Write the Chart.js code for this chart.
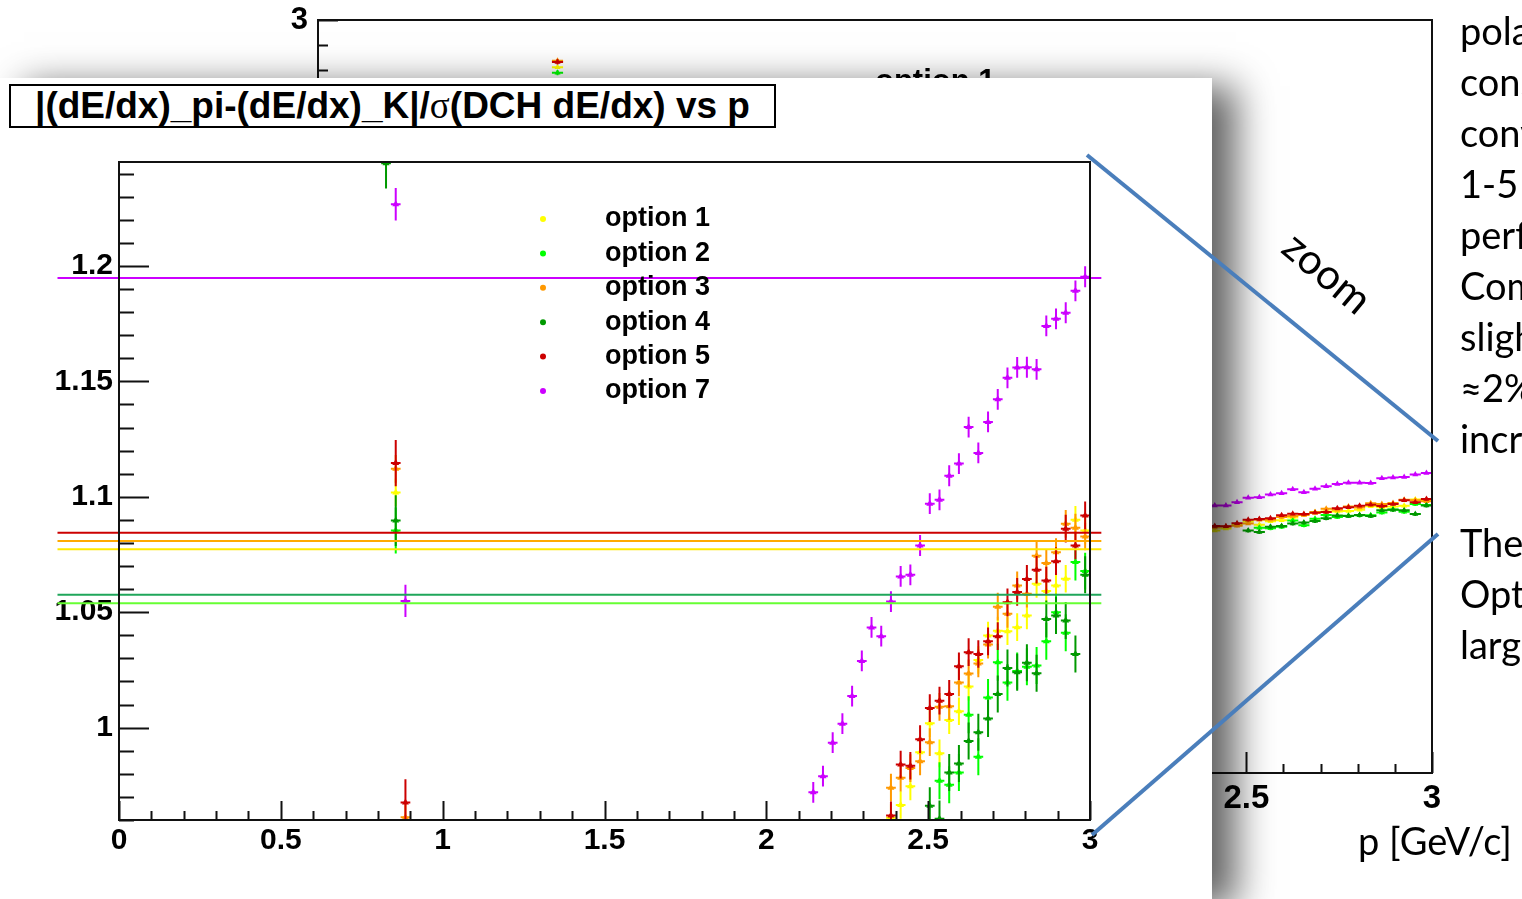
<!DOCTYPE html>
<html>
<head>
<meta charset="utf-8">
<title>dE/dx pi-K separation vs p</title>
<script src="https://cdn.jsdelivr.net/npm/chart.js@4.4.1/dist/chart.umd.min.js"></script>
<style>
  html, body { margin: 0; padding: 0; }
  body { width: 1522px; height: 899px; overflow: hidden; position: relative; background: #fff; }
  #full { position: absolute; left: 0; top: 0; }
  #inset { position: absolute; left: 0; top: 78px; width: 1212px; height: 821px; background: #fff;
           box-shadow: 24px 8px 36px rgba(0, 0, 0, 0.62); }
  #inset canvas { position: absolute; left: 0; top: 0; }
  #title { position: absolute; left: 9px; top: 6px; width: 767px; height: 44px; box-sizing: border-box;
           border: 2px solid #000; background: #fff; color: #000; text-align: center; white-space: nowrap;
           font-family: 'Liberation Sans', Arial, sans-serif; font-weight: bold; font-size: 37px; line-height: 40px; }
  #title .sym { font-family: 'Liberation Serif', 'DejaVu Serif', serif; font-weight: normal; }
  .slide { position: absolute; font-family: Lato, 'Open Sans', sans-serif; font-size: 38px; color: #000; white-space: nowrap; }
  #notes { left: 1460px; top: 5px; line-height: 51px; }
  #notes .gap { height: 53px; }
  #xtitle { left: 1358px; top: 820px; line-height: 40px; }
  #overlay { position: absolute; left: 0; top: 0; }
</style>
</head>
<body>
<canvas id="full" width="1522" height="899"></canvas>

<div id="inset">
  <canvas id="zoomed" width="1212" height="821"></canvas>
  <div id="title">|(dE/dx)_pi-(dE/dx)_K|/<span class="sym">σ</span>(DCH dE/dx) vs p</div>
</div>

<div id="notes" class="slide">
  <div>polar</div>
  <div>cons</div>
  <div>conv</div>
  <div>1-5 o</div>
  <div>perfo</div>
  <div>Comp</div>
  <div>slight</div>
  <div>≈2% </div>
  <div>incre</div>
  <div class="gap"></div>
  <div>The </div>
  <div>Optio</div>
  <div>large</div>
</div>
<div id="xtitle" class="slide">p [GeV/c]</div>

<svg id="overlay" width="1522" height="899">
  <line x1="1087" y1="155" x2="1438" y2="441" stroke="#4a7ebb" stroke-width="4"/>
  <line x1="1092" y1="835" x2="1438" y2="534" stroke="#4a7ebb" stroke-width="4"/>
  <text x="1318" y="284" transform="rotate(40 1318 284)" text-anchor="middle"
        font-family="Lato, 'Open Sans', sans-serif" font-size="42" fill="#000">zoom</text>
</svg>

<script>
// bin centres in p [GeV/c], 0.03 wide bins
const pLow = [0.645, 0.825, 0.855, 0.885];
const pHigh = [2.145, 2.175, 2.205, 2.235, 2.265, 2.295, 2.325, 2.355, 2.385, 2.415,
               2.445, 2.475, 2.505, 2.535, 2.565, 2.595, 2.625, 2.655, 2.685, 2.715,
               2.745, 2.775, 2.805, 2.835, 2.865, 2.895, 2.925, 2.955, 2.985];

// |(dE/dx)_pi-(dE/dx)_K| / sigma, low momentum bins
const opt1Low = [2.812, null, 1.1019, null];
const opt2Low = [2.79, null, 1.0854, null];
const opt3Low = [2.838, null, 1.1121, 0.9612];
const opt4Low = [null, 1.2445, 1.0897, null];
const opt5Low = [2.833, null, 1.1146, 0.9676];
const opt7Low = [null, null, 1.2267, 1.0549];

// same quantity, high momentum bins (aligned with pHigh)
const opt1High = [null, null, null, null, null, null, null, null,
  0.961, 0.9665, 0.9746, 0.9893, 1.0019, 0.9889, 1.0033, 1.0071, 1.0178, 1.0293, 1.0399,
  1.042, 1.0418, 1.0435, 1.0486, 1.0623, 1.0592, 1.0616, 1.0645, 1.09, 1.0854];
const opt2High = [null, null, null, null, null, null, null, null, null, null, null, null, null,
  0.977, 0.9753, 0.9806, 1.0056, 0.9874, 1.0131, 1.0283, 1.0196, 1.0245, 1.0264, 1.0269,
  1.0374, 1.05, 1.0411, 1.0717, 1.0678];
const opt3High = [null, null, null, null, null, null, null, null,
  0.974, 0.9783, 0.9825, 0.9854, 0.9937, 1.009, 1.0093, 1.0196, 1.0235, 1.0278, 1.036,
  1.0524, 1.0493, 1.0616, 1.058, 1.0745, 1.0713, 1.076, 1.0883, 1.0866, 1.0828];
const opt4High = [null, null, null, null, null, null, null, null, null, null, null, null,
  0.9662, 0.9605, 0.9806, 0.9845, 0.9942, 0.998, 1.004, 1.0146, 1.0258, 1.024, 1.0281,
  1.0236, 1.0471, 1.0486, 1.0464, 1.0319, 1.0662];
const opt5High = [null, null, null, null, null, null, null, null,
  0.962, 0.984, 0.9835, 0.995, 1.0085, 1.0117, 1.0146, 1.0266, 1.0327, 1.0319, 1.0374,
  1.0396, 1.0543, 1.0588, 1.0644, 1.0684, 1.0637, 1.0721, 1.0862, 1.0789, 1.0919];
const opt7High = [0.972, 0.979, 0.9935, 1.0017, 1.0137, 1.0289, 1.0434, 1.0396,
  1.0546, 1.0655, 1.0662, 1.0789, 1.097, 1.0987, 1.1091, 1.1144, 1.1302, 1.119, 1.1324,
  1.1422, 1.1515, 1.156, 1.1561, 1.1552, 1.174, 1.1771, 1.1797, 1.1892, 1.1953];

const errLow = [0.006, 0.010, 0.006, 0.011, 0.010, 0.007];
const errHigh = [0.006, 0.008, 0.006, 0.008, 0.006, 0.0045];

// averages drawn as horizontal lines on the zoomed view
const meanLevels = [1.0773, 1.0539, 1.0808, 1.0576, 1.0844, 1.1948];
const meanSpan = [-0.19, 3.035];

const seriesLabels = ['option 1', 'option 2', 'option 3', 'option 4', 'option 5', 'option 7'];
const seriesColors = ['#ffff00', '#00ff00', '#ff9900', '#009900', '#cc0000', '#cc00ff'];
const meanColors = ['#ffe800', '#66ff33', '#ffaa00', '#1fa65a', '#cc0000', '#cc00ff'];

const xTicks = [0, 0.5, 1, 1.5, 2, 2.5, 3];
const yTicksZoom = [1, 1.05, 1.1, 1.15, 1.2];
const yTicksFull = [0, 0.5, 1, 1.5, 2, 2.5, 3];

const lowSets = [opt1Low, opt2Low, opt3Low, opt4Low, opt5Low, opt7Low];
const highSets = [opt1High, opt2High, opt3High, opt4High, opt5High, opt7High];
const HALF_BIN = 0.015;

function points(ps, vals, err) {
  const out = [];
  ps.forEach((p, i) => {
    if (vals[i] !== null) out.push({ x: p, y: vals[i], e: err });
  });
  return out;
}

function makeDatasets(radius, withLines) {
  const sets = seriesLabels.map((label, i) => ({
    type: 'scatter',
    label: label,
    data: points(pLow, lowSets[i], errLow[i]).concat(points(pHigh, highSets[i], errHigh[i])),
    backgroundColor: seriesColors[i],
    borderColor: seriesColors[i],
    pointStyle: 'triangle',
    pointRadius: radius,
    pointBorderWidth: 0,
    order: seriesLabels.length - i
  }));
  if (withLines) {
    meanLevels.forEach((lvl, i) => {
      sets.push({
        type: 'line',
        label: '',
        data: [{ x: meanSpan[0], y: lvl }, { x: meanSpan[1], y: lvl }],
        borderColor: meanColors[i],
        borderWidth: 2,
        pointRadius: 0,
        clip: false,
        order: 0
      });
    });
  }
  return sets;
}

function eachTick(min, max, step, major, fn) {
  const k0 = Math.ceil(min / step - 1e-6), k1 = Math.floor(max / step + 1e-6);
  for (let k = k0; k <= k1; k++) {
    const v = k * step;
    fn(v, Math.abs(v / major - Math.round(v / major)) < 1e-6);
  }
}

const fmt = v => String(Math.round(v * 100) / 100);

// ROOT-like frame: error bars, inward ticks, frame box and a plain legend
const rootAxes = {
  id: 'rootAxes',
  beforeDatasetDraw(chart, args, o) {
    const ds = chart.data.datasets[args.index];
    if (ds.type !== 'scatter') return;
    const { ctx, chartArea: a, scales: { x, y } } = chart;
    ctx.save();
    ctx.beginPath();
    ctx.rect(a.left, a.top, a.right - a.left, a.bottom - a.top);
    ctx.clip();
    ctx.strokeStyle = ds.backgroundColor;
    ctx.lineWidth = o.barWidth;
    ctx.beginPath();
    ds.data.forEach(pt => {
      const px = x.getPixelForValue(pt.x), py = y.getPixelForValue(pt.y);
      ctx.moveTo(x.getPixelForValue(pt.x - HALF_BIN), py);
      ctx.lineTo(x.getPixelForValue(pt.x + HALF_BIN), py);
      ctx.moveTo(px, y.getPixelForValue(pt.y - pt.e));
      ctx.lineTo(px, y.getPixelForValue(pt.y + pt.e));
    });
    ctx.stroke();
    ctx.restore();
  },
  afterDatasetsDraw(chart, args, o) {
    const { ctx, chartArea: a, scales: { x, y } } = chart;
    ctx.save();
    ctx.strokeStyle = '#111';
    ctx.lineWidth = 2;
    ctx.strokeRect(a.left, a.top, a.right - a.left, a.bottom - a.top);
    ctx.beginPath();
    eachTick(x.min, x.max, o.xMinor, o.xMajor, (v, major) => {
      const px = Math.round(x.getPixelForValue(v)) + 0.5;
      ctx.moveTo(px, a.bottom);
      ctx.lineTo(px, a.bottom - (major ? o.xMajorLen : o.xMinorLen));
    });
    eachTick(y.min, y.max, o.yMinor, o.yMajor, (v, major) => {
      const py = Math.round(y.getPixelForValue(v)) + 0.5;
      ctx.moveTo(a.left, py);
      ctx.lineTo(a.left + (major ? o.yMajorLen : o.yMinorLen), py);
    });
    ctx.stroke();

    const L = o.legend;
    ctx.font = L.font;
    ctx.textAlign = 'left';
    ctx.textBaseline = 'middle';
    chart.data.datasets.filter(d => d.type === 'scatter').forEach((d, i) => {
      const cy = L.top + i * L.step;
      ctx.fillStyle = d.backgroundColor;
      ctx.beginPath();
      ctx.arc(L.markerX, cy, 3, 0, Math.PI * 2);
      ctx.fill();
      ctx.fillStyle = '#000';
      ctx.fillText(d.label, L.textX, cy);
    });
    ctx.restore();
  }
};

function makeChart(canvas, cfg) {
  const family = "'Liberation Sans', Arial, sans-serif";
  return new Chart(canvas, {
    type: 'scatter',
    data: { datasets: cfg.datasets },
    options: {
      responsive: false,
      animation: false,
      devicePixelRatio: 1,
      events: [],
      layout: { padding: cfg.padding },
      plugins: {
        legend: { display: false },
        tooltip: { enabled: false },
        rootAxes: cfg.axes
      },
      scales: {
        x: {
          type: 'linear', min: 0, max: 3, bounds: 'data',
          afterBuildTicks: s => { s.ticks = xTicks.map(v => ({ value: v })); },
          afterFit: s => { s.height = cfg.xHeight; },
          grid: { display: false, drawTicks: false },
          border: { display: false },
          ticks: { autoSkip: false, maxRotation: 0, padding: cfg.xPad, color: '#000',
                   font: { family, weight: 'bold', size: cfg.xFontSize }, callback: v => fmt(v) }
        },
        y: {
          type: 'linear', min: cfg.yMin, max: cfg.yMax, bounds: 'data',
          afterBuildTicks: s => { s.ticks = cfg.yTicks.map(v => ({ value: v })); },
          afterFit: s => { s.width = cfg.yWidth; },
          grid: { display: false, drawTicks: false },
          border: { display: false },
          ticks: { autoSkip: false, padding: cfg.yPad, color: '#000',
                   font: { family, weight: 'bold', size: cfg.yFontSize, lineHeight: 0.6 }, callback: v => fmt(v) }
        }
      }
    },
    plugins: [rootAxes]
  });
}

// full range view behind the zoom
makeChart(document.getElementById('full'), {
  datasets: makeDatasets(3.5, false),
  padding: { top: 20, right: 90, left: 0, bottom: 0 },
  yWidth: 318, xHeight: 126, yMin: 0, yMax: 3, yTicks: yTicksFull,
  xFontSize: 33, yFontSize: 31, xPad: 6, yPad: 10,
  axes: {
    barWidth: 2,
    xMajor: 0.5, xMinor: 0.1, xMajorLen: 21, xMinorLen: 9,
    yMajor: 0.5, yMinor: 0.1, yMajorLen: 20, yMinorLen: 10,
    legend: { markerX: 815, textX: 875, top: 82, step: 38, font: "bold 31px 'Liberation Sans', Arial, sans-serif" }
  }
});

// zoomed view
makeChart(document.getElementById('zoomed'), {
  datasets: makeDatasets(4, true),
  padding: { top: 84, right: 122, left: 0, bottom: 0 },
  yWidth: 119, xHeight: 79, yMin: 0.96, yMax: 1.245, yTicks: yTicksZoom,
  xFontSize: 30, yFontSize: 30, xPad: 3, yPad: 6,
  axes: {
    barWidth: 2,
    xMajor: 0.5, xMinor: 0.1, xMajorLen: 19, xMinorLen: 9,
    yMajor: 0.05, yMinor: 0.01, yMajorLen: 30, yMinorLen: 15,
    legend: { markerX: 543, textX: 605, top: 141, step: 34.4, font: "bold 27px 'Liberation Sans', Arial, sans-serif" }
  }
});
</script>
</body>
</html>
